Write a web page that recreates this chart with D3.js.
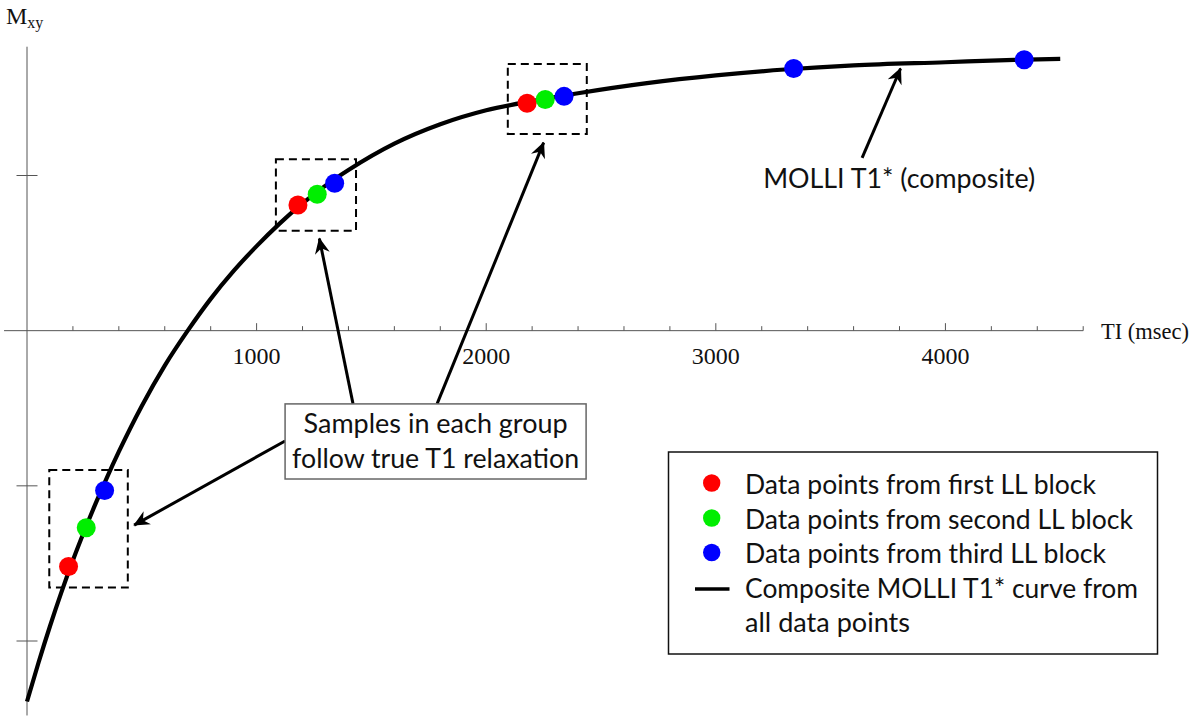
<!DOCTYPE html>
<html><head><meta charset="utf-8">
<script src="https://cdn.jsdelivr.net/npm/d3@7"></script>
<style>body{margin:0;background:#fff} svg{display:block}</style>
</head><body><svg id="c" width="1200" height="721"></svg>
<script>
// ---- data ----
const curveT = [0,50,100,150,200,250,300,350,400,500,600,700,800,900,1000,1100,1200,1300,1400,1600,1800,2000,2200,2400,2700,3000,3300,3600,4000,4300,4500];
const curveM = [-2.39,-2.14,-1.905,-1.685,-1.48,-1.29,-1.11,-0.94,-0.78,-0.485,-0.225,0.0,0.205,0.385,0.545,0.69,0.82,0.935,1.035,1.205,1.33,1.42,1.48,1.53,1.595,1.645,1.683,1.71,1.73,1.745,1.751];
const block1T = [181, 1180, 2178];
const block1M = [-1.52, 0.81, 1.466];
const block2T = [258, 1264, 2257];
const block2M = [-1.27, 0.879, 1.49];
const block3T = [338, 1340, 2339, 3339, 4343];
const block3M = [-1.03, 0.95, 1.51, 1.69, 1.746];
const majorTicks = [1000, 2000, 3000, 4000];
const minorTicks = d3.range(200, 4601, 200).filter(v => v % 1000 !== 0);
const yTicks = [1, -1, -2];
const legendLabels = ["Data points from first LL block","Data points from second LL block","Data points from third LL block","Composite MOLLI T1* curve from","all data points"];
const blockColors = ["#ff0000", "#00ee00", "#0000ff"];

// ---- scales ----
const x = d3.scaleLinear().domain([0, 4600]).range([27, 1083.2]);
const y = d3.scaleLinear().domain([-2, 1]).range([641, 175.5]);

const svg = d3.select("#c");
svg.append("rect").attr("width",1200).attr("height",721).attr("fill","#fff");

const defs = svg.append("defs");
defs.append("marker").attr("id","ah").attr("viewBox","-16 -8 18 16")
  .attr("refX",0).attr("refY",0).attr("markerWidth",18).attr("markerHeight",16)
  .attr("markerUnits","userSpaceOnUse").attr("orient","auto")
  .append("path").attr("d","M1,0 L-15,-7.5 L-10,0 L-15,7.5 Z").attr("fill","#000");

const sans = "Lato, 'Open Sans', sans-serif";
const serif = "'Liberation Serif', 'DejaVu Serif', serif";
const axisColor = "#555";

// ---- axes ----
const g = svg.append("g");
g.append("line").attr("x1", x(-100)).attr("x2", x(4600)).attr("y1", y(0)).attr("y2", y(0))
  .attr("stroke", axisColor).attr("stroke-width", 1);
g.append("line").attr("x1", x(0)).attr("x2", x(0)).attr("y1", y(1.83)).attr("y2", y(-2.48))
  .attr("stroke", axisColor).attr("stroke-width", 1);
g.selectAll(".mn").data(minorTicks).join("line")
  .attr("x1", d => x(d)).attr("x2", d => x(d)).attr("y1", y(0)).attr("y2", y(0) - 4.5)
  .attr("stroke", axisColor).attr("stroke-width", 1);
g.selectAll(".mj").data(majorTicks).join("line")
  .attr("x1", d => x(d)).attr("x2", d => x(d)).attr("y1", y(0)).attr("y2", y(0) - 7.5)
  .attr("stroke", axisColor).attr("stroke-width", 1);
g.selectAll(".yt").data(yTicks).join("line")
  .attr("x1", x(0) - 10.5).attr("x2", x(0) + 10.5).attr("y1", d => y(d)).attr("y2", d => y(d))
  .attr("stroke", axisColor).attr("stroke-width", 1);
g.selectAll(".tl").data(majorTicks).join("text")
  .attr("x", d => x(d)).attr("y", y(0) + 33).attr("text-anchor","middle")
  .attr("font-family", serif).attr("font-size", 24).attr("fill","#111").text(d => d);
g.append("text").attr("x", 1101).attr("y", y(0) + 8).attr("font-family", serif)
  .attr("font-size", 23).attr("fill","#111").text("TI (msec)").call(s => s.attr("textLength", 88).attr("lengthAdjust","spacingAndGlyphs"));
const ml = g.append("text").attr("x", 6).attr("y", 24).attr("font-family", serif).attr("fill","#111");
ml.append("tspan").attr("font-size", 24).text("M");
ml.append("tspan").attr("font-size", 16).attr("dy", 4).text("xy");

// ---- curve ----
const line = d3.line().x(d => x(d[0])).y(d => y(d[1])).curve(d3.curveMonotoneX);
svg.append("path").datum(curveT.map((t,i) => [t, curveM[i]]))
  .attr("d", line).attr("fill","none").attr("stroke","#000").attr("stroke-width",4.2);

// ---- dashed group boxes (data coords) ----
const groupBoxes = [[97,439,-0.898,-1.656],[1084,1433,1.105,0.644],[2094,2438,1.719,1.268]];
svg.selectAll(".gb").data(groupBoxes).join("rect")
  .attr("x", d => x(d[0])).attr("y", d => y(d[2]))
  .attr("width", d => x(d[1]) - x(d[0])).attr("height", d => y(d[3]) - y(d[2]))
  .attr("fill","none").attr("stroke","#000").attr("stroke-width",2).attr("stroke-dasharray","8,5");

// ---- points ----
const blocks = [[block1T, block1M], [block2T, block2M], [block3T, block3M]];
blocks.forEach((b, k) => {
  svg.append("g").selectAll("circle").data(b[0].map((t,i) => [t, b[1][i]])).join("circle")
    .attr("cx", d => x(d[0])).attr("cy", d => y(d[1])).attr("r", 9.5).attr("fill", blockColors[k]);
});

// ---- arrows (data coords: from -> to) ----
const arrows = [[1420,-0.472,1268,0.632],[1786,-0.472,2260,1.248],[1124,-0.711,444,-1.272],[3637,1.113,3815,1.725]];
svg.selectAll(".ar").data(arrows).join("line")
  .attr("x1", d => x(d[0])).attr("y1", d => y(d[1]))
  .attr("x2", d => { const dx = x(d[2])-x(d[0]), dy = y(d[3])-y(d[1]), L = Math.hypot(dx,dy); return x(d[2]) - dx/L*6; })
  .attr("y2", d => { const dx = x(d[2])-x(d[0]), dy = y(d[3])-y(d[1]), L = Math.hypot(dx,dy); return y(d[3]) - dy/L*6; })
  .attr("stroke","#000").attr("stroke-width",3).attr("marker-end","url(#ah)");

// ---- callout box ----
svg.append("rect").attr("x", x(1124)).attr("y", y(-0.472)).attr("width", x(2435)-x(1124))
  .attr("height", y(-0.956)-y(-0.472)).attr("fill","#fff").attr("stroke","#666").attr("stroke-width",1.5);
const fitTxt = (sel, w) => sel.attr("textLength", w).attr("lengthAdjust","spacingAndGlyphs");
svg.append("text").attr("x", x(1779.5)).attr("y", y(-0.659)).attr("text-anchor","middle")
  .attr("font-family", sans).attr("font-size", 27).attr("fill","#111").text("Samples in each group").call(fitTxt, 264);
svg.append("text").attr("x", x(1779.5)).attr("y", y(-0.885)).attr("text-anchor","middle")
  .attr("font-family", sans).attr("font-size", 27).attr("fill","#111").text("follow true T1 relaxation").call(fitTxt, 287);
svg.append("text").attr("x", x(3206)).attr("y", y(0.92))
  .attr("font-family", sans).attr("font-size", 27).attr("fill","#111").text("MOLLI T1* (composite)").call(fitTxt, 272);

// ---- legend ----
const lg = svg.append("g");
lg.append("rect").attr("x", 668.5).attr("y", 452).attr("width", 489).attr("height", 202)
  .attr("fill","#fff").attr("stroke","#111").attr("stroke-width",1.5);
const rowBase = [493.5, 528.5, 563, 597.5, 632];
const rowW = [351, 388, 361, 393, 165];
legendLabels.forEach((s, i) => {
  lg.append("text").attr("x", 745).attr("y", rowBase[i]).attr("font-family", sans)
    .attr("font-size", 27).attr("fill","#111").text(s).call(fitTxt, rowW[i]);
});
blockColors.forEach((c, i) => {
  lg.append("circle").attr("cx", 711.7).attr("cy", rowBase[i] - 10.5).attr("r", 8.7).attr("fill", c);
});
lg.append("line").attr("x1", 695).attr("x2", 729.5).attr("y1", rowBase[3] - 8.5).attr("y2", rowBase[3] - 8.5)
  .attr("stroke","#000").attr("stroke-width",3.5);
</script></body></html>
